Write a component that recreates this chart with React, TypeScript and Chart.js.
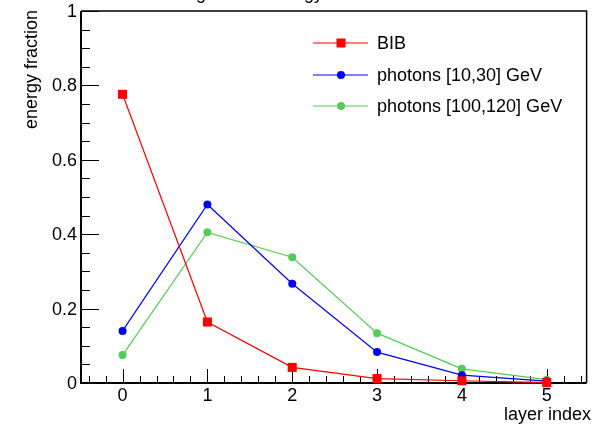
import React, { useEffect, useRef } from "react";
import { Chart, registerables } from "chart.js";

Chart.register(...registerables);

// ---- data ----
const layers = [0, 1, 2, 3, 4, 5];
const bib = [0.776, 0.164, 0.042, 0.012, 0.006, 0.001];
const photons10to30 = [0.14, 0.48, 0.267, 0.083, 0.021, 0.005];
const photons100to120 = [0.075, 0.405, 0.338, 0.134, 0.038, 0.009];
const seriesLabels = ["BIB", "photons [10,30] GeV", "photons [100,120] GeV"];
const seriesColors = ["#ff0000", "#0000ff", "#55cc55"];
const seriesMarkers = ["rect", "circle", "circle"];
const xTickValues = [0, 1, 2, 3, 4, 5];
const yTickValues = [0, 0.2, 0.4, 0.6, 0.8, 1];
const yTickLabels = ["0", "0.2", "0.4", "0.6", "0.8", "1"];
const titleText = "Longitudinal energy distribution";
const xTitle = "layer index";
const yTitle = "energy fraction";

const FONT = "18px 'Liberation Sans', Arial, Helvetica, sans-serif";

const framePlugin = {
  id: "rootFrame",
  beforeDatasetsDraw(chart: any) {
    const { ctx, chartArea, scales } = chart;
    const { left, right, top, bottom } = chartArea;
    const xs = scales.x;
    const ys = scales.y;
    ctx.save();
    ctx.strokeStyle = "#000";
    ctx.lineWidth = 1;
    ctx.beginPath();
    for (let v = -0.4; v <= 5.45; v += 0.2) {
      const r = Math.round(v * 10) / 10;
      const px = Math.round(xs.getPixelForValue(r)) + 0.5;
      const major = Math.abs(r - Math.round(r)) < 1e-6;
      ctx.moveTo(px, bottom);
      ctx.lineTo(px, bottom - (major ? 14 : 7));
    }
    for (let i = 0; i <= 20; i++) {
      const v = i * 0.05;
      const py = Math.round(ys.getPixelForValue(v)) + 0.5;
      const major = i % 4 === 0;
      ctx.moveTo(left, py);
      ctx.lineTo(left + (major ? 18 : 9), py);
    }
    ctx.stroke();
    ctx.lineWidth = 1.5;
    ctx.beginPath();
    ctx.moveTo(left, top);
    ctx.lineTo(right, top);
    ctx.lineTo(right, bottom);
    ctx.stroke();
    ctx.lineWidth = 2;
    ctx.beginPath();
    ctx.moveTo(left, top);
    ctx.lineTo(left, bottom);
    ctx.lineTo(right, bottom);
    ctx.stroke();
    ctx.restore();
  },
  afterDraw(chart: any) {
    const { ctx, scales } = chart;
    const xs = scales.x;
    const ys = scales.y;
    ctx.save();
    ctx.fillStyle = "#000";
    ctx.font = FONT;
    ctx.textAlign = "right";
    ctx.textBaseline = "middle";
    yTickValues.forEach((v, i) => {
      ctx.fillText(yTickLabels[i], 77, ys.getPixelForValue(v) + 1);
    });
    ctx.textAlign = "center";
    xTickValues.forEach((v) => {
      ctx.fillText(String(v), xs.getPixelForValue(v), 396);
    });
    ctx.textAlign = "right";
    ctx.fillText(xTitle, 591, 415);
    ctx.save();
    ctx.translate(37, 10);
    ctx.rotate(-Math.PI / 2);
    ctx.textAlign = "right";
    ctx.textBaseline = "alphabetic";
    ctx.fillText(yTitle, 0, 0);
    ctx.restore();
    // title, mostly cut off by the top edge
    ctx.textAlign = "left";
    ctx.textBaseline = "alphabetic";
    ctx.fillText(titleText, 166, -1);
    // legend
    const rows = [43, 75, 106];
    rows.forEach((yy, i) => {
      ctx.strokeStyle = seriesColors[i];
      ctx.lineWidth = 1.2;
      ctx.beginPath();
      ctx.moveTo(313, yy);
      ctx.lineTo(368, yy);
      ctx.stroke();
      ctx.fillStyle = seriesColors[i];
      if (seriesMarkers[i] === "rect") {
        ctx.fillRect(341 - 4.5, yy - 4.5, 9, 9);
      } else {
        ctx.beginPath();
        ctx.arc(341, yy, 4, 0, Math.PI * 2);
        ctx.fill();
      }
      ctx.fillStyle = "#000";
      ctx.textAlign = "left";
      ctx.textBaseline = "middle";
      ctx.fillText(seriesLabels[i], 377, yy + 1);
    });
    ctx.restore();
  },
};

export default function App() {
  const ref = useRef<HTMLCanvasElement>(null);
  useEffect(() => {
    if (!ref.current) return;
    const allSeries = [bib, photons10to30, photons100to120];
    const chart = new Chart(ref.current, {
      type: "scatter",
      data: {
        datasets: allSeries.map((vals, i) => ({
          label: seriesLabels[i],
          data: layers.map((x, j) => ({ x, y: vals[j] })),
          showLine: true,
          borderColor: seriesColors[i],
          backgroundColor: seriesColors[i],
          borderWidth: 1.2,
          pointStyle: seriesMarkers[i] as any,
          pointRadius: seriesMarkers[i] === "rect" ? 6.4 : 4,
          pointBorderWidth: 0,
          tension: 0,
          clip: false as any,
        })),
      },
      options: {
        animation: false,
        responsive: false,
        maintainAspectRatio: false,
        layout: { padding: { left: 81, right: 4, top: 11, bottom: 42 } },
        plugins: { legend: { display: false }, tooltip: { enabled: false }, title: { display: false } },
        scales: {
          x: { type: "linear", min: -0.49, max: 5.47, display: false },
          y: { type: "linear", min: 0, max: 1, display: false },
        },
      },
      plugins: [framePlugin],
    });
    return () => chart.destroy();
  }, []);
  return (
    <div style={{ position: "absolute", left: 0, top: 0, width: 593, height: 425, background: "#fff" }}>
      <canvas ref={ref} width={593} height={425} style={{ display: "block" }} />
    </div>
  );
}
